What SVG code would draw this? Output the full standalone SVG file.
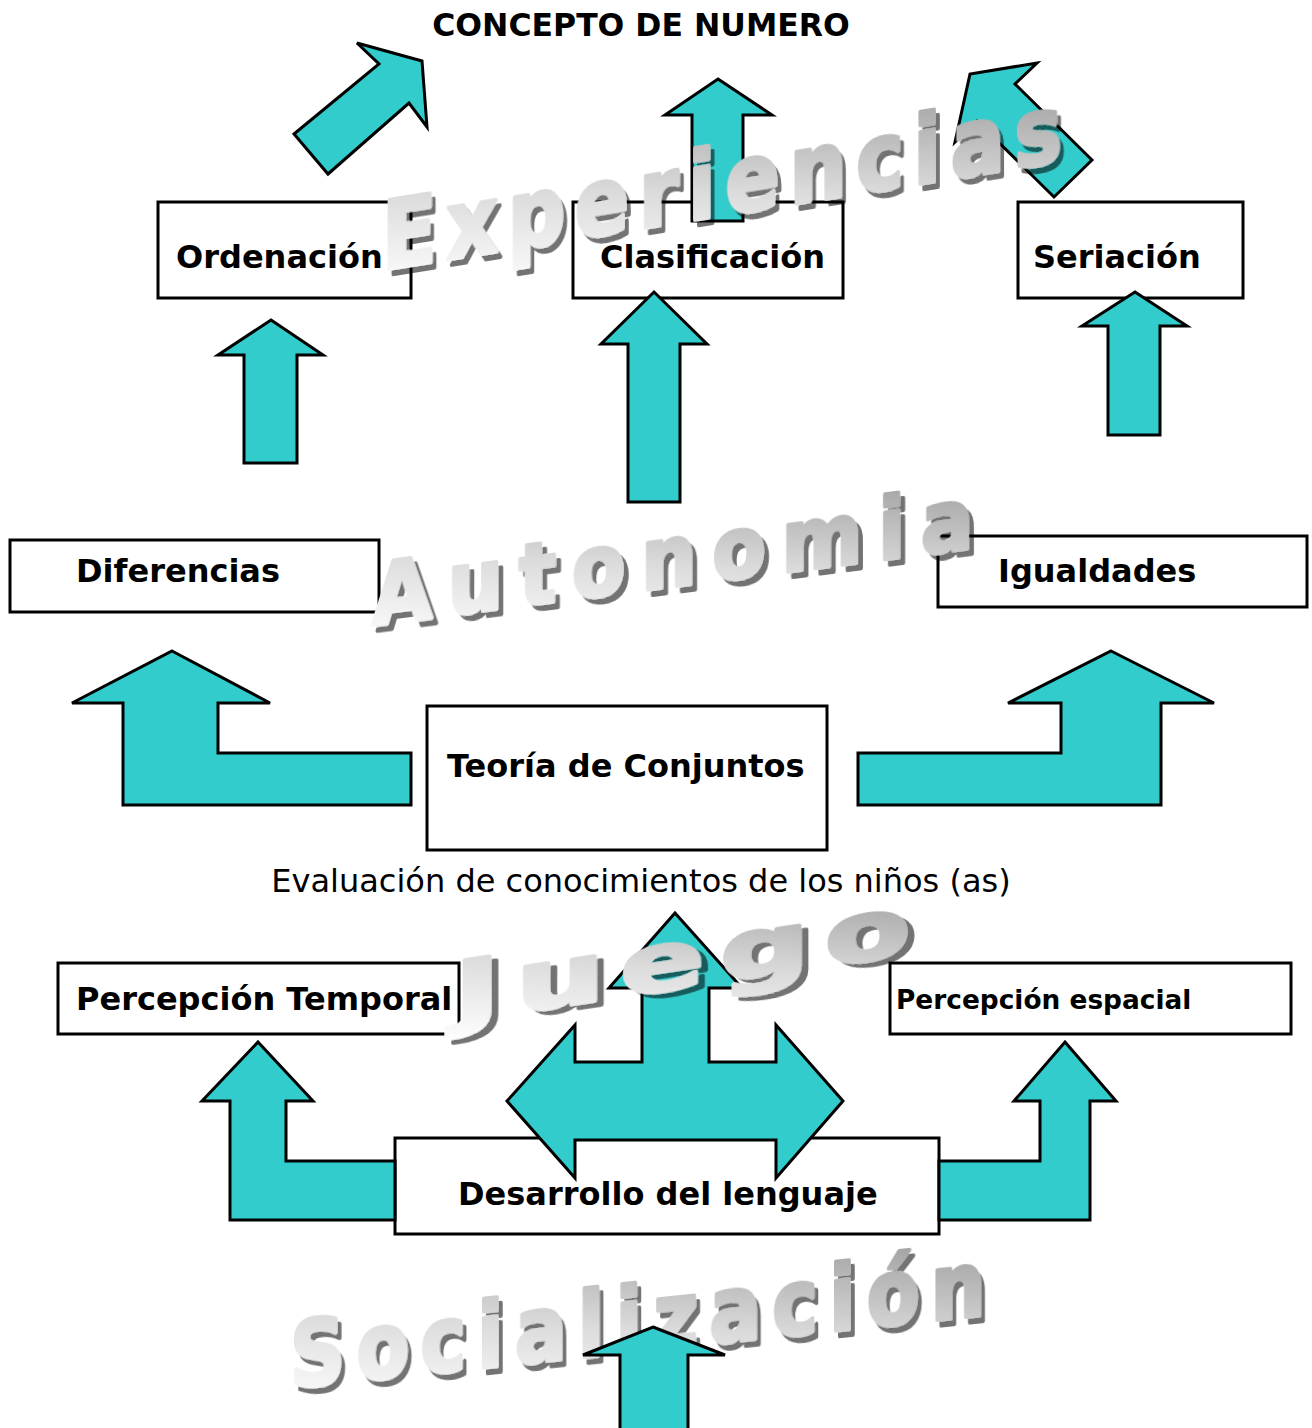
<svg xmlns="http://www.w3.org/2000/svg" width="1312" height="1428" viewBox="0 0 1312 1428">
<defs>
<style>
.box{fill:#fff;stroke:#000;stroke-width:3}
.lbl{font-family:"DejaVu Sans","Liberation Sans",sans-serif;font-weight:bold;font-size:32px;fill:#000}
.arr{fill:#33CCCC;stroke:#000;stroke-width:3;stroke-linejoin:miter}
.wa{font-family:"DejaVu Sans","Liberation Sans",sans-serif;font-weight:bold;fill:url(#waGrad);stroke:url(#waGrad);stroke-width:4;stroke-linejoin:round;filter:url(#waShadow)}
</style>
<linearGradient id="waGrad" x1="0" y1="1" x2="1" y2="0">
<stop offset="0" stop-color="#ffffff"/>
<stop offset="0.45" stop-color="#dcdcdc"/>
<stop offset="1" stop-color="#999999"/>
</linearGradient>
<filter id="waShadow" x="-10%" y="-20%" width="130%" height="150%">
<feOffset in="SourceAlpha" dx="5" dy="6" result="off"/>
<feFlood flood-color="#000" flood-opacity="0.55"/>
<feComposite in2="off" operator="in" result="sh"/>
<feMerge><feMergeNode in="sh"/><feMergeNode in="SourceGraphic"/></feMerge>
</filter>
</defs>
<rect width="1312" height="1428" fill="#fff"/>

<text x="641" y="36" text-anchor="middle" class="lbl" style="font-size:31.5px">CONCEPTO DE NUMERO</text>

<g id="socializacion-text" transform="translate(290,1388) skewY(-6)">
<text class="wa" transform="scale(0.85,1)" x="0" y="0" font-size="90" textLength="818" lengthAdjust="spacing">Socialización</text>
</g>

<g id="node-ordenacion"><rect class="box" x="158" y="202" width="253" height="96"/><text class="lbl" x="176" y="268">Ordenación</text></g>
<g id="node-clasificacion"><rect class="box" x="573" y="202" width="270" height="96"/><text class="lbl" x="600" y="268">Clasificación</text></g>
<g id="node-seriacion"><rect class="box" x="1018" y="202" width="225" height="96"/><text class="lbl" x="1033" y="268">Seriación</text></g>
<g id="node-diferencias"><rect class="box" x="10" y="540" width="369" height="72"/><text class="lbl" x="76" y="582">Diferencias</text></g>
<g id="node-igualdades"><rect class="box" x="938" y="536" width="369" height="71"/><text class="lbl" x="998" y="582">Igualdades</text></g>
<g id="node-teoria"><rect class="box" x="427" y="706" width="400" height="144"/><text class="lbl" x="447" y="777">Teoría de Conjuntos</text></g>
<g id="node-evaluacion"><text x="641" y="892" text-anchor="middle" font-family="DejaVu Sans, Liberation Sans, sans-serif" font-size="32" fill="#000">Evaluación de conocimientos de los niños (as)</text></g>
<g id="node-temporal"><rect class="box" x="58" y="963" width="401" height="71"/><text class="lbl" x="76" y="1010">Percepción Temporal</text></g>
<g id="node-espacial"><rect class="box" x="890" y="963" width="401" height="71"/><text class="lbl" x="896" y="1009" style="font-size:26.4px">Percepción espacial</text></g>
<g id="node-desarrollo"><rect class="box" x="395" y="1138" width="544" height="96"/><text class="lbl" x="458" y="1205">Desarrollo del lenguaje</text></g>

<g id="connectors">
<polygon class="arr" points="294,134 379,64 357,43 422,61 427,127 409,103 328,174"/>
<polygon class="arr" points="718,79 772,115 743,115 743,221 692,221 692,115 665,115"/>
<polygon class="arr" points="1092,160 1015,84 1037,63 970,74 955,142 977,121 1054,197"/>
<polygon class="arr" points="271,320 323,355 297,355 297,463 244,463 244,355 218,355"/>
<polygon class="arr" points="654,292 707,344 680,344 680,502 628,502 628,344 601,344"/>
<polygon class="arr" points="1135,292 1187,326 1160,326 1160,435 1108,435 1108,326 1082,326"/>
<polygon class="arr" points="172,651 270,703 218,703 218,753 411,753 411,805 123,805 123,703 72,703"/>
<polygon class="arr" points="1111,651 1214,703 1161,703 1161,805 858,805 858,753 1061,753 1061,703 1008,703"/>
<polygon class="arr" points="675,913 742,988 709,988 709,1062 776,1062 776,1025 843,1101 776,1178 776,1140 575,1140 575,1178 507,1101 575,1025 575,1062 642,1062 642,988 609,988"/>
<polygon class="arr" points="258,1042 313,1101 286,1101 286,1161 395,1161 395,1220 230,1220 230,1101 202,1101"/>
<polygon class="arr" points="1065,1042 1116,1101 1090,1101 1090,1220 939,1220 939,1161 1040,1161 1040,1101 1014,1101"/>
<polygon class="arr" points="653,1327 725,1355 688,1355 688,1432 620,1432 620,1355 583,1355"/>
</g>

<g id="experiencias-text" transform="translate(382,270) skewY(-9.1)">
<text class="wa" transform="scale(0.85,1)" x="0" y="0" font-size="94" textLength="800" lengthAdjust="spacing">Experiencias</text>
</g>
<g id="autonomia-text" transform="translate(372,625) skewY(-7.3)">
<text class="wa" transform="scale(0.9,1)" x="0" y="0" font-size="86" textLength="668" lengthAdjust="spacing">Autonomia</text>
</g>
<g id="juego-text" transform="translate(454,1022) skewY(-8.5)">
<text class="wa" transform="scale(1.35,0.9)" x="0" y="0" font-size="92" textLength="338" lengthAdjust="spacing">Juego</text>
</g>
</svg>
